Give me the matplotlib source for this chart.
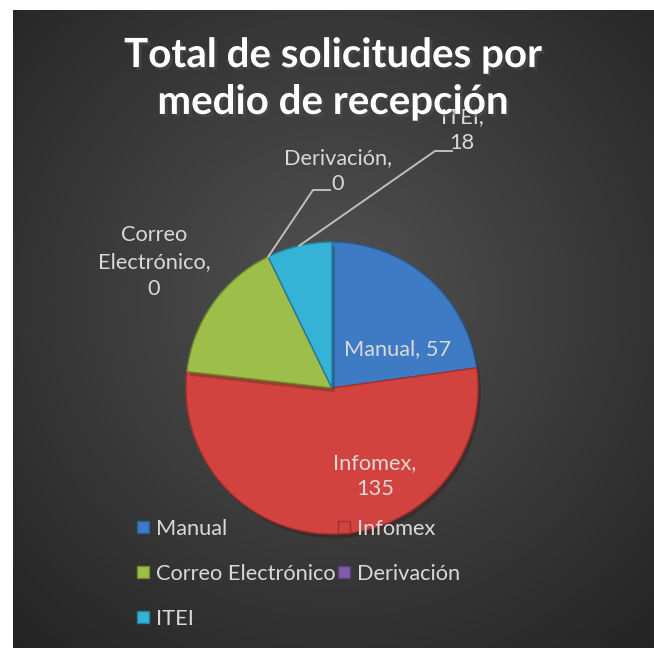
import numpy as np
import matplotlib
matplotlib.use("Agg")
import matplotlib.pyplot as plt
from matplotlib.lines import Line2D
import matplotlib.patheffects as pe

plt.rcParams['font.family'] = ['Lato', 'DejaVu Sans']

# ---- data ----
categories = ["Manual", "Infomex", "Correo Electrónico", "Derivación", "ITEI"]
values = [57, 135, 40, 0, 18]            # slice sizes as drawn
label_values = [57, 135, 0, 0, 18]        # values printed on the labels
colors = ["#3E7BC4", "#D2423E", "#9DBE48", "#7E5CA8", "#35B3D6"]
edge_colors = ["#2B5A96", "#A3302D", "#6F8B2E", "#5A3E7E", "#23809C"]
title = "Total de solicitudes por\nmedio de recepción"

W, H = 654, 648
fig = plt.figure(figsize=(W / 100, H / 100), dpi=100, facecolor="white")

# background with radial gradient
bx0, by0 = 13, 10
bg = fig.add_axes([bx0 / W, 0, 1 - bx0 / W, 1 - by0 / H])
bg.set_axis_off()
yy, xx = np.mgrid[by0:H, bx0:W]
cx, cy = 335, 300
d = np.sqrt((xx - cx) ** 2 + ((yy - cy) * 1.0) ** 2) / 470
d = np.clip(d, 0, 1)
c_in = np.array([0x52, 0x52, 0x52]) / 255
c_out = np.array([0x24, 0x24, 0x24]) / 255
img = c_in[None, None, :] * (1 - d[..., None]) + c_out[None, None, :] * d[..., None]
bg.imshow(img, aspect="auto", interpolation="bilinear")

# main axes in pixel coordinates (y up)
ax = fig.add_axes([0, 0, 1, 1])
ax.set_xlim(0, W)
ax.set_ylim(0, H)
ax.set_axis_off()
ax.patch.set_alpha(0)

pcx, pcy, R = 332, H - 388, 146
wedges, _ = ax.pie(values, colors=colors, startangle=90, counterclock=False,
                   center=(pcx, pcy), radius=R, frame=True,
                   wedgeprops=dict(linewidth=1.0))
for w, ec in zip(wedges, edge_colors):
    w.set_edgecolor(ec)
    w.set_path_effects([pe.SimplePatchShadow(offset=(2, -3), alpha=0.35), pe.Normal()])
ax.set_xlim(0, W)
ax.set_ylim(0, H)
ax.set_aspect("equal")
ax.set_axis_off()

# angles
tot = sum(values)
angles = []
a = 90.0
for v in values:
    a2 = a - v / tot * 360
    angles.append((a, a2))
    a = a2

txt_col = "#D9D9D9"
fs = 15.7
ls = 1.42

def P(x, y):
    return x, H - y

# inside labels
ax.text(*P(398, 349), f"{categories[0]}, {label_values[0]}", color=txt_col,
        fontsize=fs, ha="center", va="center")
ax.text(*P(375, 476), f"{categories[1]},\n{label_values[1]}", color=txt_col,
        fontsize=fs, ha="center", va="center", linespacing=ls)

# outside labels
ax.text(*P(154, 262), "Correo\nElectrónico,\n" + str(label_values[2]), color=txt_col,
        fontsize=fs, ha="center", va="center", linespacing=ls)
ax.text(*P(338, 171), f"{categories[3]},\n{label_values[3]}", color=txt_col,
        fontsize=fs, ha="center", va="center", linespacing=ls)
ax.text(*P(462, 130), f"{categories[4]},\n{label_values[4]}", color=txt_col,
        fontsize=fs, ha="center", va="center", linespacing=ls)

# leader lines
line_col = "#BFBFBF"
def edge_pt(ang):
    r = np.deg2rad(ang)
    return pcx + R * np.cos(r), pcy + R * np.sin(r)

sx, sy = edge_pt(np.mean(angles[3]))
ax.plot([sx, 313, 330], [sy, H - 190, H - 190], color=line_col, lw=1.4)
sx, sy = edge_pt(np.mean(angles[4]))
ax.plot([sx, 435, 452], [sy, H - 151, H - 151], color=line_col, lw=1.4)

# title
fig.text(333 / W, 1 - 79 / H, title, color="white", fontsize=29, fontweight="bold",
         ha="center", va="center", linespacing=1.33,
         path_effects=[pe.withSimplePatchShadow(offset=(2, -2), alpha=0.6)])

# legend
order = [0, 2, 4, 1, 3]
handles = [Line2D([], [], marker="s", linestyle="none", markersize=8,
                  markerfacecolor=colors[i], markeredgecolor=edge_colors[i],
                  markeredgewidth=1.0) for i in order]
labels = [categories[i] for i in order]
leg = fig.legend(handles, labels, ncol=2, loc="upper left",
                 bbox_to_anchor=(124 / W, 1 - 508 / H), frameon=False,
                 fontsize=fs, labelcolor=txt_col, handlelength=0.7,
                 handletextpad=0.25, columnspacing=0.05, labelspacing=1.15,
                 borderpad=0)

fig.savefig("out.png", dpi=100, facecolor="white")
